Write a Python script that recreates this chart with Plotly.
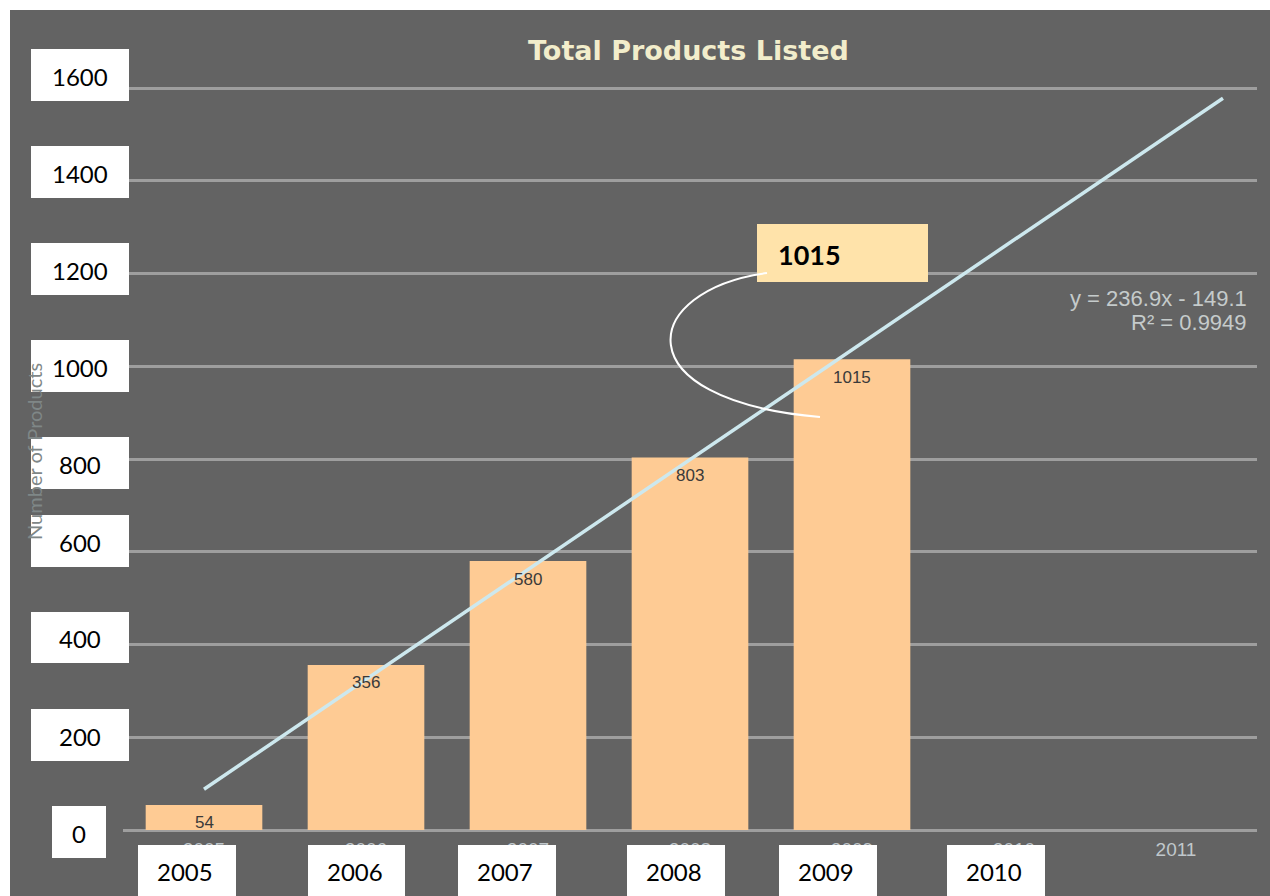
import plotly.graph_objects as go

# ---------------- data ----------------
years = ["2005", "2006", "2007", "2008", "2009", "2010", "2011"]
products = [54, 356, 580, 803, 1015]
trend_x = [0, 6.29]          # trendline endpoints (category index)
trend_y = [88, 1578]         # trendline values
y_box_labels = ["1600", "1400", "1200", "1000", "800", "600", "400", "200", "0"]
x_box_labels = ["2005", "2006", "2007", "2008", "2009", "2010"]
title_text = "Total Products Listed"
y_title = "Number of Products"
equation = "y = 236.9x - 149.1"
r_squared = "R² = 0.9949"
callout = "1015"

# ---------------- layout geometry (pixels) ----------------
W, H = 1270, 896
L, R, T, B = 123, 13, 86, 66
PW = W - L - R
PH = H - T - B
YMAX = 1600 * PH / 742.0   # keeps 0..1600 mapped to 830..88 px


def px(x):
    return (x - L) / PW


def py(y):
    return (H - B - y) / PH


GREY = "#636363"
BAR = "#FECB94"
GRID = "#9e9e9e"

fig = go.Figure()

fig.add_trace(go.Bar(
    x=list(range(len(products))), y=products, width=0.72,
    marker=dict(color=BAR, line=dict(width=0)),
    hoverinfo="skip", showlegend=False,
))

fig.add_trace(go.Scatter(
    x=trend_x, y=trend_y, mode="lines",
    line=dict(color="#CDE8EE", width=3.5),
    hoverinfo="skip", showlegend=False,
))

annotations = []
# bar value labels
for i, v in enumerate(products):
    annotations.append(dict(
        x=i, y=v, xref="x", yref="y", text=str(v), showarrow=False,
        yshift=-18, yanchor="middle",
        font=dict(family="Liberation Sans", size=17, color="#3a3a3a"),
    ))

shapes = []
# grey background panel
shapes.append(dict(type="rect", xref="paper", yref="paper",
                   x0=px(10), x1=px(1275), y0=py(900), y1=py(10),
                   fillcolor=GREY, line=dict(width=0), layer="below"))

# y-axis white label boxes
y_boxes = [(31, 49, 129, 101), (31, 146, 129, 198), (31, 243, 129, 295),
           (31, 340, 129, 392), (31, 437, 129, 489), (31, 515, 129, 567),
           (31, 612, 129, 663), (31, 709, 129, 761), (52, 806, 106, 858)]
for lab, (x0, y0, x1, y1) in zip(y_box_labels, y_boxes):
    shapes.append(dict(type="rect", xref="paper", yref="paper",
                       x0=px(x0), x1=px(x1), y0=py(y1), y1=py(y0),
                       fillcolor="white", line=dict(width=0), layer="above"))
    annotations.append(dict(x=px((x0 + x1) / 2), y=py((y0 + y1) / 2 + 1),
                            xref="paper", yref="paper", text=lab, showarrow=False,
                            xanchor="center", yanchor="middle",
                            font=dict(family="Lato", size=24, color="black")))

# x-axis white label boxes
x_boxes = [(138, 236), (308, 405), (458, 556), (627, 725), (779, 877), (947, 1045)]
for lab, (x0, x1) in zip(x_box_labels, x_boxes):
    shapes.append(dict(type="rect", xref="paper", yref="paper",
                       x0=px(x0), x1=px(x1), y0=py(905), y1=py(845),
                       fillcolor="white", line=dict(width=0), layer="above"))
    annotations.append(dict(x=px((x0 + x1) / 2 - 2), y=py(871),
                            xref="paper", yref="paper", text=lab, showarrow=False,
                            xanchor="center", yanchor="middle",
                            font=dict(family="Lato", size=24, color="black")))

# callout box
shapes.append(dict(type="rect", xref="paper", yref="paper",
                   x0=px(757), x1=px(928), y0=py(282), y1=py(224),
                   fillcolor="#FFE3AA", line=dict(width=0), layer="above"))
annotations.append(dict(x=px(776), y=py(254), xref="paper", yref="paper",
                        text="<b>" + callout + "</b>", showarrow=False,
                        xanchor="left", yanchor="middle",
                        font=dict(family="Lato", size=27, color="black")))

# curved connector
pts = [(767, 273), (640, 290), (620, 400), (820, 417)]
pp = [(px(a), py(b)) for a, b in pts]
path = "M {:.5f},{:.5f} C {:.5f},{:.5f} {:.5f},{:.5f} {:.5f},{:.5f}".format(
    pp[0][0], pp[0][1], pp[1][0], pp[1][1], pp[2][0], pp[2][1], pp[3][0], pp[3][1])
shapes.append(dict(type="path", xref="paper", yref="paper", path=path,
                   line=dict(color="white", width=2), layer="above"))

# title
annotations.append(dict(x=px(688), y=py(51), xref="paper", yref="paper",
                        text="<b>" + title_text + "</b>", showarrow=False,
                        xanchor="center", yanchor="middle",
                        font=dict(family="DejaVu Sans", size=27, color="#F2EDCB")))

# trendline equation
annotations.append(dict(x=px(1249), y=py(298), xref="paper", yref="paper",
                        text=equation, showarrow=False,
                        xanchor="right", yanchor="middle",
                        font=dict(family="Liberation Sans", size=22, color="#C5CBCB")))
annotations.append(dict(x=px(1249), y=py(322), xref="paper", yref="paper",
                        text=r_squared, showarrow=False,
                        xanchor="right", yanchor="middle",
                        font=dict(family="Liberation Sans", size=22, color="#C5CBCB")))

# y-axis title (mostly hidden)
annotations.append(dict(x=px(34), y=py(452), xref="paper", yref="paper",
                        text=y_title, showarrow=False, textangle=-90,
                        xanchor="center", yanchor="middle",
                        font=dict(family="Lato", size=20, color="#7F8787")))

fig.update_layout(
    width=W, height=H,
    margin=dict(l=L, r=R, t=T, b=B, pad=0),
    paper_bgcolor="white", plot_bgcolor="rgba(0,0,0,0)",
    shapes=shapes, annotations=annotations,
    showlegend=False,
    xaxis=dict(range=[-0.5, 6.5], tickmode="array",
               tickvals=list(range(len(years))), ticktext=years,
               showgrid=False, zeroline=False, showline=False, ticks="",
               ticklabelstandoff=6,
               tickfont=dict(family="Liberation Sans", size=19, color="#C0C8CC"),
               fixedrange=True),
    yaxis=dict(range=[0, YMAX], tickmode="linear", tick0=0, dtick=200,
               showgrid=True, gridcolor=GRID, gridwidth=2.5,
               zeroline=True, zerolinecolor=GRID, zerolinewidth=2.5,
               showticklabels=False, showline=False, ticks="",
               fixedrange=True),
)

fig.write_html("out.html")
